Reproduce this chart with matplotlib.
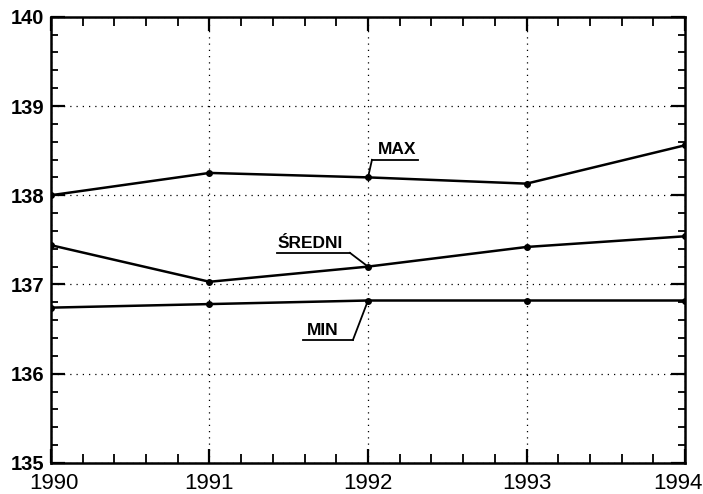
import matplotlib.pyplot as plt
from matplotlib.ticker import MultipleLocator

years = [1990, 1991, 1992, 1993, 1994]
max_vals = [138.0, 138.25, 138.2, 138.13, 138.56]
sredni_vals = [137.44, 137.03, 137.2, 137.42, 137.54]
min_vals = [136.74, 136.78, 136.82, 136.82, 136.82]
year_labels = ['1990', '1991', '1992', '1993', '1994']

# label, series, text anchor (x, baseline y), underline x-range and y, which end joins the point
labels = [
    ("MAX", max_vals, (1992.063, 138.464), (1992.025, 1992.315), 138.397, 'start'),
    ("ŚREDNI", sredni_vals, (1991.432, 137.41), (1991.426, 1991.886), 137.354, 'end'),
    ("MIN", min_vals, (1991.615, 136.435), (1991.59, 1991.905), 136.379, 'end'),
]

plt.rcParams['font.family'] = ['Liberation Sans', 'DejaVu Sans']

fig = plt.figure(figsize=(7.03, 4.94), dpi=100)
ax = fig.add_axes([0.0725, 0.063, 0.902, 0.903])

for vals in (max_vals, sredni_vals, min_vals):
    ax.plot(years, vals, color='black', lw=1.8, marker='o', ms=4)

for text, vals, txy, ux, uy, join in labels:
    ax.text(txy[0], txy[1], text, fontsize=12.5, fontweight='bold',
            ha='left', va='baseline')
    ax.plot(ux, [uy, uy], color='black', lw=1.3)
    jx = ux[0] if join == 'start' else ux[1]
    ax.plot([jx, years[2]], [uy, vals[2]], color='black', lw=1.3)

ax.set_xlim(1990, 1994)
ax.set_ylim(135, 140)
ax.xaxis.set_major_locator(MultipleLocator(1))
ax.xaxis.set_minor_locator(MultipleLocator(0.2))
ax.yaxis.set_major_locator(MultipleLocator(1))
ax.yaxis.set_minor_locator(MultipleLocator(0.2))
ax.grid(True, which='major', linestyle=(0, (1, 4)), color='black', lw=0.9)

ax.tick_params(which='both', direction='in', top=True, right=True, color='black')
ax.tick_params(which='major', length=10, width=1.6)
ax.tick_params(which='minor', length=5, width=1.3)
ax.tick_params(axis='x', which='minor', length=6.5)
ax.tick_params(axis='x', labelbottom=False)
ax.tick_params(axis='y', labelsize=14.5, pad=5)
for lab in ax.get_yticklabels():
    lab.set_fontweight('bold')
for s in ax.spines.values():
    s.set_linewidth(1.8)

# year labels drawn by hand so the end ones stay inside the figure
shifts = {0: 2, len(years) - 1: -5}
for i, (yr, lab) in enumerate(zip(years, year_labels)):
    ax.annotate(lab, xy=(yr, 0), xycoords=('data', 'axes fraction'),
                xytext=(shifts.get(i, 0), -7.5), textcoords='offset points',
                ha='center', va='top', fontsize=16)

fig.savefig('out.png', dpi=100)
